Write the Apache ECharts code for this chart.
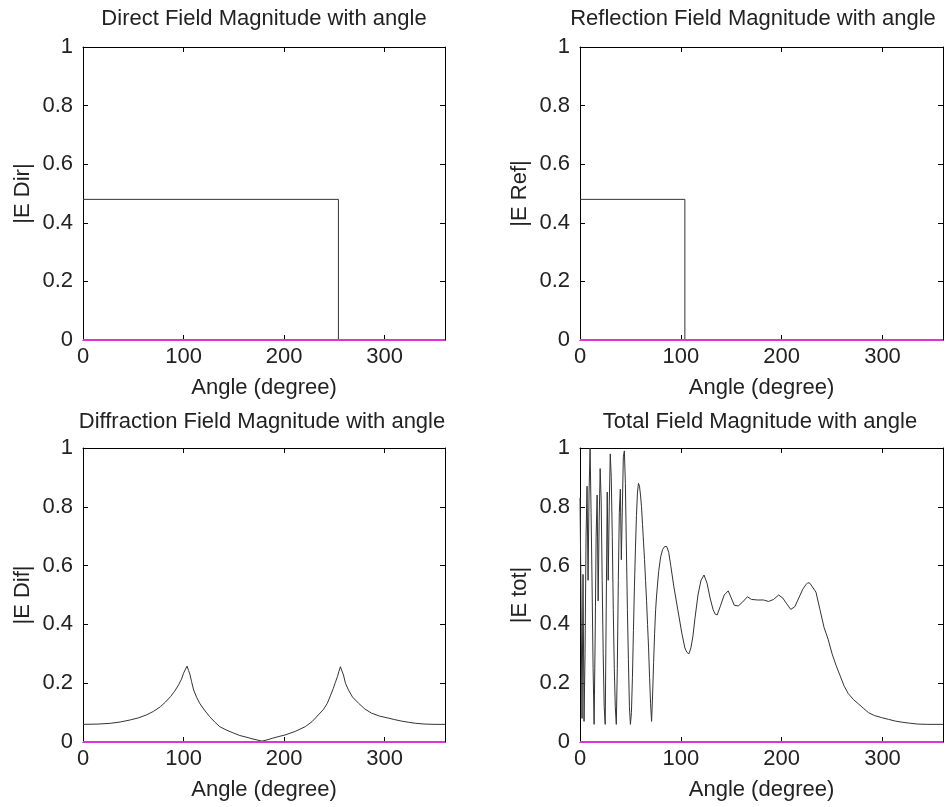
<!DOCTYPE html>
<html><head><meta charset="utf-8">
<script src="https://cdn.jsdelivr.net/npm/echarts@6/dist/echarts.min.js"></script>
<style>html,body{margin:0;padding:0;background:#fff}#c{width:949px;height:807px}</style>
</head><body><div id="c"></div><script>
// ---------- data ----------
const xTicks = [0, 100, 200, 300];
const yTickLabels = ['0', '0.2', '0.4', '0.6', '0.8', '1'];
const titles = ['Direct Field Magnitude with angle', 'Reflection Field Magnitude with angle',
  'Diffraction Field Magnitude with angle', 'Total Field Magnitude with angle'];
const yNames = ['|E Dir|', '|E Ref|', '|E Dif|', '|E tot|'];
const xName = 'Angle (degree)';

const zeroAngles = [0, 360];
const zeroValues = [0, 0];

const directAngles = [0, 254, 254, 360];
const directValues = [0.48, 0.48, 0, 0];

const reflAngles = [0, 104, 104, 360];
const reflValues = [0.48, 0.48, 0, 0];

const difAngles = [0, 1, 15, 27, 37, 47, 55, 63, 70, 77, 82, 87, 91, 95, 98, 100, 102, 103.5, 105, 106.5, 108, 110, 113, 116, 120, 126, 131, 136, 143, 150, 156, 163, 168, 173, 178, 184, 188, 194, 201, 211, 221, 228, 234, 239, 243, 246, 249, 251, 253, 254.5, 256, 257.5, 259, 261, 264, 268, 274, 280, 287, 295, 304, 310, 317, 324, 331, 340, 350, 360];
const difValues = [0.060, 0.060, 0.061, 0.0635, 0.068, 0.075, 0.082, 0.092, 0.104, 0.12, 0.136, 0.154, 0.172, 0.194, 0.214, 0.234, 0.248, 0.258, 0.243, 0.228, 0.205, 0.177, 0.152, 0.132, 0.112, 0.086, 0.068, 0.052, 0.040, 0.030, 0.022, 0.016, 0.011, 0.007, 0.003, 0.008, 0.0125, 0.018, 0.024, 0.036, 0.052, 0.07, 0.092, 0.11, 0.132, 0.157, 0.183, 0.203, 0.222, 0.24, 0.256, 0.242, 0.228, 0.2, 0.177, 0.153, 0.132, 0.113, 0.098, 0.088, 0.081, 0.076, 0.071, 0.067, 0.0635, 0.061, 0.060, 0.060];

const totAngles = [0, 1, 2, 3, 4, 5, 6, 7, 8, 9, 10, 11, 12, 13, 14, 15, 16, 17, 18, 19, 20, 21, 22, 23, 24, 25, 26, 27, 28, 29, 30, 31, 32, 33, 34, 35, 36, 37, 38, 39, 40, 41, 42, 43, 44, 45, 46, 47, 48, 49, 50, 51, 52, 53, 54, 55, 56, 57, 58, 59, 60, 61, 62, 63, 64, 65, 66, 67, 68, 69, 70, 71, 72, 73, 74, 75, 76,
  78, 80, 82, 84, 86, 88, 90, 93, 97, 101, 104, 106, 108, 110, 112, 114, 117, 120, 123, 126, 129, 132, 134, 136, 139, 143, 147, 150, 153, 157, 161, 166, 170, 176, 182, 187, 192, 197, 201, 205, 209, 213, 217, 221, 224, 226, 228, 230, 234, 238, 242, 246, 250, 254, 258, 262, 266, 271, 276, 281, 286, 292, 299, 306, 313, 320, 327, 335, 345, 360];
const totValues = [0.83, 0.50, 0.08, 0.57, 0.07, 0.30, 0.70, 0.87, 0.55, 0.85, 1.00, 0.78, 0.53, 0.25, 0.06, 0.35, 0.70, 0.84, 0.48, 0.75, 0.93, 0.82, 0.55, 0.30, 0.12, 0.06, 0.45, 0.85, 0.55, 0.80, 0.98, 0.90, 0.70, 0.45, 0.25, 0.12, 0.06, 0.25, 0.55, 0.78, 0.86, 0.62, 0.80, 0.97, 0.99, 0.88, 0.66, 0.45, 0.28, 0.12, 0.06, 0.10, 0.22, 0.38, 0.53, 0.66, 0.77, 0.85, 0.88, 0.87, 0.84, 0.80, 0.74, 0.68, 0.62, 0.55, 0.48, 0.40, 0.32, 0.22, 0.13, 0.07, 0.16, 0.27, 0.37, 0.45, 0.50,
  0.58, 0.63, 0.655, 0.665, 0.665, 0.645, 0.60, 0.53, 0.45, 0.37, 0.32, 0.305, 0.30, 0.32, 0.36, 0.42, 0.50, 0.55, 0.568, 0.54, 0.49, 0.45, 0.435, 0.432, 0.46, 0.50, 0.514, 0.49, 0.465, 0.463, 0.475, 0.494, 0.485, 0.483, 0.483, 0.478, 0.485, 0.50, 0.49, 0.47, 0.451, 0.46, 0.49, 0.52, 0.535, 0.542, 0.54, 0.53, 0.51, 0.45, 0.39, 0.35, 0.30, 0.26, 0.225, 0.19, 0.165, 0.145, 0.13, 0.115, 0.10, 0.09, 0.083, 0.077, 0.071, 0.067, 0.064, 0.061, 0.060, 0.060];

// ---------- layout ----------
const F = '"Liberation Sans", Arial, Helvetica, sans-serif';
const TXT = '#222';
const grids = [
  { left: 83, top: 47, width: 362, height: 293 },
  { left: 580, top: 47, width: 363, height: 293 },
  { left: 83, top: 448, width: 362, height: 294 },
  { left: 580, top: 448, width: 363, height: 294 }
];
const titlePos = [[264, 8], [753, 8], [262, 411], [760, 411]];
const curves = [[directAngles, directValues], [reflAngles, reflValues], [difAngles, difValues], [totAngles, totValues]];
const pairs = (a, b) => a.map((v, i) => [v, b[i]]);

const xAxis = [], yAxis = [], series = [], title = [];
grids.forEach((g, i) => {
  ['bottom', 'top'].forEach(pos => {
    xAxis.push({
      type: 'value', gridIndex: i, position: pos, min: 0, max: 360, interval: 100,
      axisLine: { show: true, onZero: false, lineStyle: { color: '#000', width: 1 } },
      axisTick: { show: true, inside: true, length: 5, lineStyle: { color: '#000' } },
      axisLabel: { show: pos === 'bottom', margin: 6, color: TXT, fontSize: 22, fontFamily: F, showMaxLabel: false,
        formatter: v => xTicks.indexOf(v) >= 0 ? String(v) : '' },
      splitLine: { show: false },
      name: pos === 'bottom' ? xName : '', nameLocation: 'middle', nameGap: 37,
      nameTextStyle: { color: TXT, fontSize: 22, fontFamily: F }
    });
  });
  ['left', 'right'].forEach(pos => {
    yAxis.push({
      type: 'value', gridIndex: i, position: pos, min: 0, max: 1, interval: 0.2,
      axisLine: { show: true, onZero: false, lineStyle: { color: '#000', width: 1 } },
      axisTick: { show: true, inside: true, length: 5, lineStyle: { color: '#000' } },
      axisLabel: { show: pos === 'left', margin: 10, color: TXT, fontSize: 22, fontFamily: F,
        formatter: v => yTickLabels[Math.round(v / 0.2)] },
      splitLine: { show: false },
      name: pos === 'left' ? yNames[i] : '', nameLocation: 'middle', nameGap: 49, nameRotate: 90,
      nameTextStyle: { color: TXT, fontSize: 22, fontFamily: F }
    });
  });
  title.push({
    text: titles[i], left: titlePos[i][0], top: titlePos[i][1], textAlign: 'center', padding: 0,
    textStyle: { color: TXT, fontSize: 22, fontWeight: 'normal', fontFamily: F }
  });
  series.push({
    type: 'line', xAxisIndex: i * 2, yAxisIndex: i * 2, data: pairs(curves[i][0], curves[i][1]),
    showSymbol: false, symbol: 'none', lineStyle: { color: '#333', width: 1 }, animation: false, z: 3
  });
  series.push({
    type: 'line', xAxisIndex: i * 2, yAxisIndex: i * 2, data: pairs(zeroAngles, zeroValues),
    showSymbol: false, symbol: 'none', lineStyle: { color: '#dd33dd', width: 2 }, animation: false, z: 4
  });
});

const chart = echarts.init(document.getElementById('c'), null, { renderer: 'canvas' });
chart.setOption({ backgroundColor: '#fff', animation: false, title, grid: grids, xAxis, yAxis, series });
</script></body></html>
